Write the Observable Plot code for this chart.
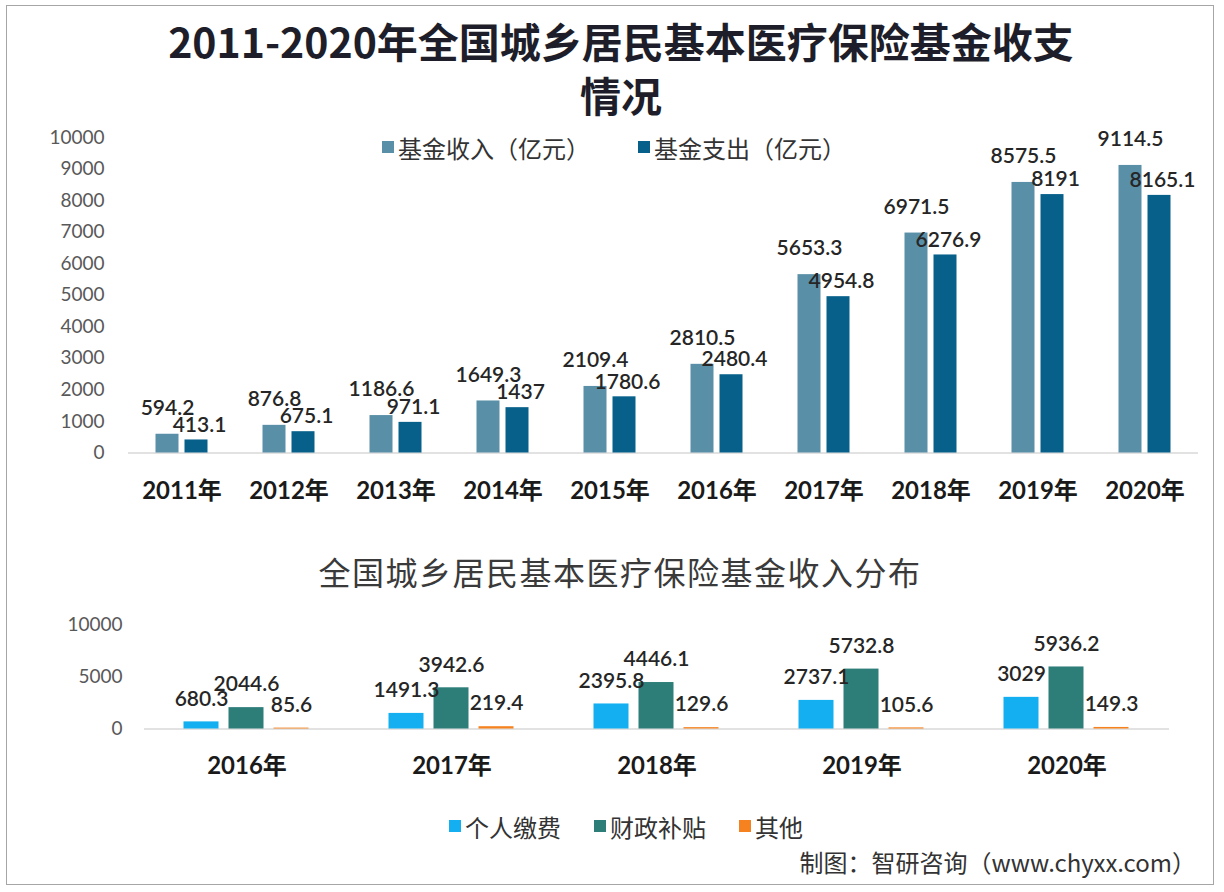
<!DOCTYPE html>
<html>
<head>
<meta charset="utf-8">
<script src="https://cdn.jsdelivr.net/npm/d3@7"></script>
<script src="https://cdn.jsdelivr.net/npm/@observablehq/plot@0.6"></script>
<style>
  html, body { margin: 0; padding: 0; background: #ffffff; }
  body { width: 1224px; height: 892px; position: relative; overflow: hidden;
         font-family: "Lato", "Noto Sans CJK SC", sans-serif; }
  .frame { position: absolute; left: 6px; top: 5px; width: 1208px; height: 880px;
           border: 1.5px solid #a6a6a6; box-sizing: border-box; }
  .title { position: absolute; left: 18px; top: 13px; width: 1206px; text-align: center;
           font-family: "Noto Sans CJK SC", sans-serif; font-weight: bold; font-size: 41px;
           line-height: 54px; color: #1e1e2a; }
  .legend { position: absolute; left: 0; width: 1224px; display: flex; justify-content: center;
            align-items: center; font-family: "Noto Sans CJK SC", sans-serif; color: #333; }
  .legend .item { display: flex; align-items: center; }
  .legend .sw { width: 12px; height: 12px; margin-right: 4px; }
  .sub { position: absolute; left: 8px; width: 1224px; text-align: center; top: 548px;
         font-family: "Noto Sans CJK SC", sans-serif; font-size: 32px; letter-spacing: 1.5px; color: #3a3a3a; }
  .caption { position: absolute; right: 28px; top: 845px; font-family: "Noto Sans CJK SC", sans-serif;
             font-size: 24px; line-height: 34px; color: #333; }
  #top { position: absolute; left: 0; top: 120px; }
  #bottom { position: absolute; left: 0; top: 600px; }
</style>
</head>
<body>
<div class="frame"></div>
<div class="title">2011-2020年全国城乡居民基本医疗保险基金收支<br>情况</div>
<div class="legend" id="legendTop" style="top:131px; height:32px; font-size:24px; gap:48px; padding-left:4px; box-sizing:border-box;"></div>
<div id="top"></div>
<div class="sub">全国城乡居民基本医疗保险基金收入分布</div>
<div id="bottom"></div>
<div class="legend" id="legendBottom" style="top:810px; height:32px; font-size:24px; gap:33px; padding-left:28px; box-sizing:border-box;"></div>
<div class="caption">制图：智研咨询（www.chyxx.com）</div>
<script>
// ---- data: top chart ----
const years = ["2011年","2012年","2013年","2014年","2015年","2016年","2017年","2018年","2019年","2020年"];
const seriesTop = ["基金收入（亿元）","基金支出（亿元）"];
const income = [594.2, 876.8, 1186.6, 1649.3, 2109.4, 2810.5, 5653.3, 6971.5, 8575.5, 9114.5];
const expense = [413.1, 675.1, 971.1, 1437, 1780.6, 2480.4, 4954.8, 6276.9, 8191, 8165.1];
const topTicks = [0,1000,2000,3000,4000,5000,6000,7000,8000,9000,10000];
const topColors = ["#5a8fa8", "#07608a"];

// ---- data: bottom chart ----
const yearsB = ["2016年","2017年","2018年","2019年","2020年"];
const seriesB = ["个人缴费","财政补贴","其他"];
const personal = [680.3, 1491.3, 2395.8, 2737.1, 3029];
const subsidy = [2044.6, 3942.6, 4446.1, 5732.8, 5936.2];
const other = [85.6, 219.4, 129.6, 105.6, 149.3];
const bottomTicks = [0, 5000, 10000];
const bottomColors = ["#14aff0", "#2d7d78", "#f5821f"];

const FONT = '"Lato", "Noto Sans CJK SC", sans-serif';

const topData = years.flatMap((y, i) => [
  {year: y, series: seriesTop[0], value: income[i]},
  {year: y, series: seriesTop[1], value: expense[i]}
]);
const bottomData = yearsB.flatMap((y, i) => [
  {year: y, series: seriesB[0], value: personal[i]},
  {year: y, series: seriesB[1], value: subsidy[i]},
  {year: y, series: seriesB[2], value: other[i]}
]);

const topPlot = Plot.plot({
  width: 1224, height: 400,
  marginLeft: 127.5, marginRight: 25.5, marginTop: 17, marginBottom: 67.5,
  style: {fontFamily: FONT, background: "transparent", overflow: "visible"},
  fx: {domain: years, paddingInner: 0, paddingOuter: 0, label: null, axis: null},
  x: {domain: seriesTop, paddingInner: 0.2167, paddingOuter: 0.892, axis: null},
  y: {domain: [0, 10000], axis: null},
  color: {domain: seriesTop, range: topColors},
  marks: [
    Plot.ruleY([0], {stroke: "#d9d9d9", strokeWidth: 1.5}),
    Plot.barY(topData, {fx: "year", x: "series", y: "value", fill: "series"}),
    Plot.text(topData.filter(d => d.series === seriesTop[0]), {
      fx: "year", x: "series", y: "value", text: d => String(d.value),
      dy: -26, lineAnchor: "middle", fontSize: 21, fontWeight: 600, fill: "#262626"
    }),
    Plot.text(topData.filter(d => d.series === seriesTop[1]), {
      fx: "year", x: "series", y: "value", text: d => String(d.value),
      dy: -15, dx: 3, lineAnchor: "middle", fontSize: 21, fontWeight: 600, fill: "#262626"
    }),
    Plot.axisY({ticks: topTicks, tickSize: 0, tickPadding: 24, fontSize: 19, fill: "#595959", label: null, tickFormat: d => String(d)}),
    Plot.axisFx({anchor: "bottom", domain: years, tickSize: 0, tickPadding: 29, fontSize: 24, fontWeight: "bold", fill: "#1a1a1a", label: null})
  ]
});
document.getElementById("top").appendChild(topPlot);

const bottomPlot = Plot.plot({
  width: 1224, height: 200,
  marginLeft: 143.5, marginRight: 55.5, marginTop: 24, marginBottom: 71.5,
  style: {fontFamily: FONT, background: "transparent", overflow: "visible"},
  fx: {domain: yearsB, paddingInner: 0, paddingOuter: 0, label: null, axis: null},
  x: {domain: seriesB, paddingInner: 0.217, paddingOuter: 0.837, axis: null},
  y: {domain: [0, 10000], axis: null},
  color: {domain: seriesB, range: bottomColors},
  marks: [
    Plot.ruleY([0], {stroke: "#d9d9d9", strokeWidth: 1.5}),
    Plot.barY(bottomData, {fx: "year", x: "series", y: "value", fill: "series"}),
    Plot.text(bottomData, {
      fx: "year", x: "series", y: "value", text: d => String(d.value),
      dy: -23, lineAnchor: "middle", fontSize: 21, fontWeight: 600, fill: "#262626"
    }),
    Plot.axisY({ticks: bottomTicks, tickSize: 0, tickPadding: 22, fontSize: 19, fill: "#595959", label: null, tickFormat: d => String(d)}),
    Plot.axisFx({anchor: "bottom", domain: yearsB, tickSize: 0, tickPadding: 28, fontSize: 24, fontWeight: "bold", fill: "#1a1a1a", label: null})
  ]
});
document.getElementById("bottom").appendChild(bottomPlot);

function buildLegend(id, names, colors) {
  const el = document.getElementById(id);
  names.forEach((n, i) => {
    const item = document.createElement("div");
    item.className = "item";
    const sw = document.createElement("span");
    sw.className = "sw";
    sw.style.background = colors[i];
    const tx = document.createElement("span");
    tx.textContent = n;
    item.appendChild(sw); item.appendChild(tx);
    el.appendChild(item);
  });
}
buildLegend("legendTop", seriesTop, topColors);
buildLegend("legendBottom", seriesB, bottomColors);
</script>
</body>
</html>
